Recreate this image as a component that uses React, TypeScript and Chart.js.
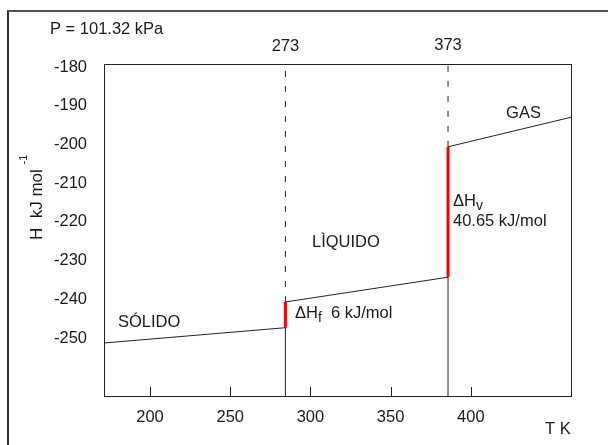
import { useEffect, useRef } from "react";
import { Chart, registerables } from "chart.js";

Chart.register(...registerables);

const FONT = '"Liberation Sans", Arial, sans-serif';
const TEXT = "#1a1a1a";
const LINE = "#222222";

// axis ranges and ticks
const tRange = [171.3, 463.1];
const hRange = [-265, -179.2];
const xTicks = [200, 250, 300, 350, 400];
const yTicks = [-180, -190, -200, -210, -220, -230, -240, -250];

// phase transition temperatures as drawn, and their labels
const T_FUSION = 284.4;
const T_VAP = 385.8;
const transitionLabels = ["273", "373"];

// enthalpy curves
const solidT = [171.3, T_FUSION];
const solidH = [-251.3, -247.35];
const liquidT = [T_FUSION, T_VAP];
const liquidH = [-240.7, -234.3];
const gasT = [T_VAP, 463.1];
const gasH = [-200.6, -192.9];

// latent heat jumps
const fusionH = [solidH[1], liquidH[0]];
const vapH = [liquidH[1], gasH[0]];

const pts = (xs: number[], ys: number[]) => xs.map((x, i) => ({ x, y: ys[i] }));

type Part = { t: string; size?: number; dy?: number };
type Note = { x: number; y: number; parts: Part[] };

// annotations (data coordinates: left edge, vertical centre)
const notes: Note[] = [
  { x: 180.0, y: -245.9, parts: [{ t: "SÓLIDO" }] },
  { x: 301.0, y: -225.2, parts: [{ t: "LÌQUIDO" }] },
  { x: 422.0, y: -192.0, parts: [{ t: "GAS" }] },
  { x: 388.9, y: -214.6, parts: [{ t: "ΔH" }, { t: "v", size: 14, dy: 5 }] },
  { x: 388.9, y: -219.9, parts: [{ t: "40.65 kJ/mol" }] },
  { x: 290.4, y: -243.55, parts: [{ t: "ΔH" }, { t: "f", size: 14, dy: 5 }, { t: "  6 kJ/mol" }] },
];

function drawParts(ctx: CanvasRenderingContext2D, parts: Part[], x: number, y: number, base = 16.5) {
  let cx = x;
  for (const p of parts) {
    ctx.font = `${p.size ?? base}px ${FONT}`;
    ctx.fillText(p.t, cx, y + (p.dy ?? 0));
    cx += ctx.measureText(p.t).width;
  }
}

const decor = {
  id: "decor",
  afterDraw(chart: any) {
    const { ctx, chartArea: a, scales } = chart;
    const xs = scales.x;
    const ys = scales.y;
    ctx.save();
    // plot box
    ctx.strokeStyle = LINE;
    ctx.lineWidth = 1;
    ctx.strokeRect(Math.round(a.left) + 0.5, Math.round(a.top) + 0.5, Math.round(a.right - a.left) - 1, Math.round(a.bottom - a.top));
    // inward tick marks on x axis
    ctx.beginPath();
    for (const v of xTicks) {
      const px = Math.round(xs.getPixelForValue(v)) + 0.5;
      ctx.moveTo(px, a.bottom);
      ctx.lineTo(px, a.bottom - 9);
    }
    ctx.stroke();

    ctx.fillStyle = TEXT;
    ctx.textBaseline = "middle";
    ctx.textAlign = "left";
    for (const n of notes) {
      drawParts(ctx, n.parts, xs.getPixelForValue(n.x), ys.getPixelForValue(n.y));
    }
    // transition temperature labels above the plot
    ctx.textAlign = "center";
    ctx.font = `16.5px ${FONT}`;
    ctx.fillText(transitionLabels[0], xs.getPixelForValue(T_FUSION), 46.5);
    ctx.fillText(transitionLabels[1], xs.getPixelForValue(T_VAP), 45.5);

    // pressure note and x axis title
    ctx.textAlign = "left";
    ctx.fillText("P = 101.32 kPa", 50, 29);
    ctx.fillText("T K", 545, 429);

    // y axis title, rotated, with superscript
    ctx.translate(42, 240);
    ctx.rotate(-Math.PI / 2);
    ctx.textBaseline = "alphabetic";
    ctx.font = `17px ${FONT}`;
    const main = "H  kJ mol ";
    ctx.fillText(main, 0, 0);
    const w = ctx.measureText(main).width;
    ctx.font = `11px ${FONT}`;
    ctx.fillText("-1", w, -15);
    ctx.restore();
  },
};

export default function App() {
  const ref = useRef<HTMLCanvasElement | null>(null);

  useEffect(() => {
    if (!ref.current) return;
    const solidLine = { borderColor: LINE, borderWidth: 1, pointRadius: 0, fill: false, tension: 0 };
    const chart = new Chart(ref.current, {
      type: "line",
      data: {
        datasets: [
          { ...solidLine, data: pts(solidT, solidH) },
          { ...solidLine, data: pts(liquidT, liquidH) },
          { ...solidLine, data: pts(gasT, gasH) },
          { ...solidLine, data: pts([T_FUSION, T_FUSION], [hRange[0], fusionH[0]]) },
          { ...solidLine, data: pts([T_VAP, T_VAP], [hRange[0], vapH[0]]) },
          { ...solidLine, borderDash: [6, 9], data: pts([T_FUSION, T_FUSION], [fusionH[1], hRange[1]]) },
          { ...solidLine, borderDash: [6, 9], data: pts([T_VAP, T_VAP], [vapH[1], hRange[1]]) },
          { ...solidLine, borderColor: "#ff0000", borderWidth: 3, data: pts([T_FUSION, T_FUSION], fusionH) },
          { ...solidLine, borderColor: "#ff0000", borderWidth: 3, data: pts([T_VAP, T_VAP], vapH) },
        ],
      },
      options: {
        animation: false,
        responsive: false,
        devicePixelRatio: 1,
        layout: { padding: { top: 64, right: 36, left: 0, bottom: 0 } },
        plugins: { legend: { display: false }, tooltip: { enabled: false } },
        scales: {
          x: {
            type: "linear",
            min: tRange[0],
            max: tRange[1],
            afterBuildTicks: (s: any) => {
              s.ticks = xTicks.map((value) => ({ value }));
            },
            afterFit: (s: any) => {
              s.height = 49;
            },
            grid: { display: false },
            border: { display: false },
            ticks: { color: TEXT, font: { family: FONT, size: 16.5 }, padding: 4, maxRotation: 0, autoSkip: false },
          },
          y: {
            type: "linear",
            min: hRange[0],
            max: hRange[1],
            afterBuildTicks: (s: any) => {
              s.ticks = yTicks.map((value) => ({ value }));
            },
            afterFit: (s: any) => {
              s.width = 104;
            },
            grid: { display: false },
            border: { display: false },
            ticks: { color: TEXT, font: { family: FONT, size: 16.5 }, padding: 9, autoSkip: false },
          },
        },
      },
      plugins: [decor],
    });
    return () => chart.destroy();
  }, []);

  return (
    <div style={{ position: "fixed", left: 0, top: 0, width: 608, height: 445, background: "#fff", overflow: "hidden" }}>
      <div
        style={{
          position: "absolute",
          left: 7,
          top: 10,
          width: 700,
          height: 600,
          borderTop: "2px solid #555",
          borderLeft: "2px solid #333",
        }}
      />
      <canvas ref={ref} width={608} height={445} style={{ position: "absolute", left: 0, top: 0 }} />
    </div>
  );
}
